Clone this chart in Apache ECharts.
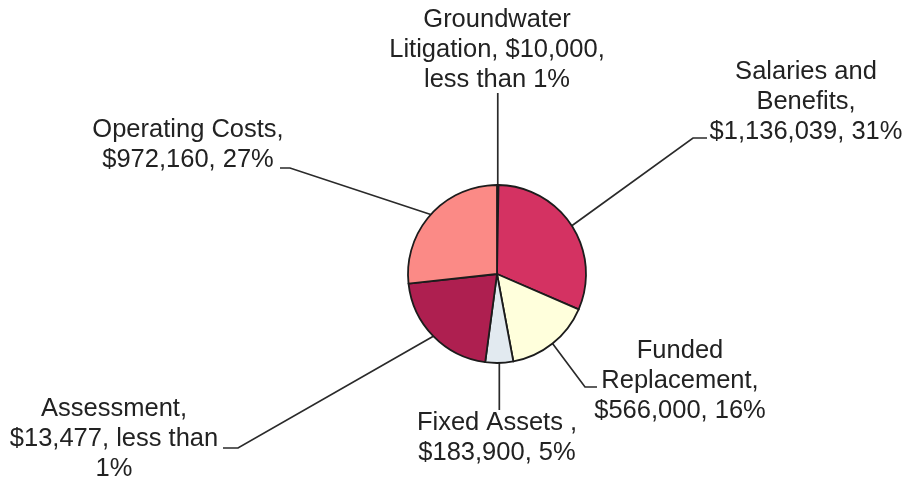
<!DOCTYPE html>
<html><head><meta charset="utf-8">
<script src="https://cdn.jsdelivr.net/npm/echarts@6/dist/echarts.min.js"></script>
<style>html,body{margin:0;padding:0;background:#fff}#c{width:906px;height:480px}</style>
</head><body><div id="c"></div>
<script>
var categories = ['Groundwater Litigation', 'Salaries and Benefits', 'Funded Replacement', 'Fixed Assets ', 'Assessment', 'Operating Costs'];
var sliceValues = [10000, 1136039, 566000, 183900, 770000, 972160];
var labelTexts = [
  'Groundwater\nLitigation, $10,000,\nless than 1%',
  'Salaries and\nBenefits,\n$1,136,039, 31%',
  'Funded\nReplacement,\n$566,000, 16%',
  'Fixed Assets ,\n$183,900, 5%',
  'Assessment,\n$13,477, less than\n1%',
  'Operating Costs,\n$972,160, 27%'
];
var colors = ['#C8385F', '#D43262', '#FFFFDC', '#E2EAF0', '#AE1F50', '#FB8A86'];

// layout of labels: [centerX, centerY, elbowX, elbowY, endX, endY]; endX null = vertical line
var labelPos = [
  [497, 50, null, null, null, 93],
  [806, 102, 693, 138, 707, 138],
  [680, 381, 585, 387, 597, 387],
  [497, 438, null, null, null, 410],
  [114, 439, 238, 448, 223, 448],
  [188, 145, 290, 168, 280, 168]
];

var chart = echarts.init(document.getElementById('c'), null, {renderer: 'canvas'});
chart.setOption({
  animation: false,
  backgroundColor: '#ffffff',
  series: [{
    type: 'pie',
    center: [497, 274],
    radius: 89,
    startAngle: 90,
    clockwise: true,
    avoidLabelOverlap: false,
    data: categories.map(function (n, i) {
      return {name: n, value: sliceValues[i], itemStyle: {color: colors[i]}};
    }),
    itemStyle: {borderColor: '#1c1c1c', borderWidth: 1.8},
    label: {
      show: true,
      formatter: function (p) { return labelTexts[p.dataIndex]; },
      fontFamily: 'Liberation Sans, Arial, sans-serif',
      fontSize: 25.5,
      lineHeight: 30,
      color: '#222',
      align: 'center'
    },
    labelLine: {show: true, length: 20, length2: 10, smooth: false,
      lineStyle: {color: '#2a2a2a', width: 1.7}},
    emphasis: {disabled: true},
    labelLayout: function (p) {
      var lp = labelPos[p.dataIndex];
      var start = p.labelLinePoints ? p.labelLinePoints[0] : [lp[0], lp[5]];
      var pts = [start];
      if (lp[2] !== null) pts.push([lp[2], lp[3]]);
      pts.push([lp[4] === null ? start[0] : lp[4], lp[5]]);
      return {x: lp[0], y: lp[1], align: 'center', verticalAlign: 'middle', labelLinePoints: pts};
    }
  }]
});
</script></body></html>
